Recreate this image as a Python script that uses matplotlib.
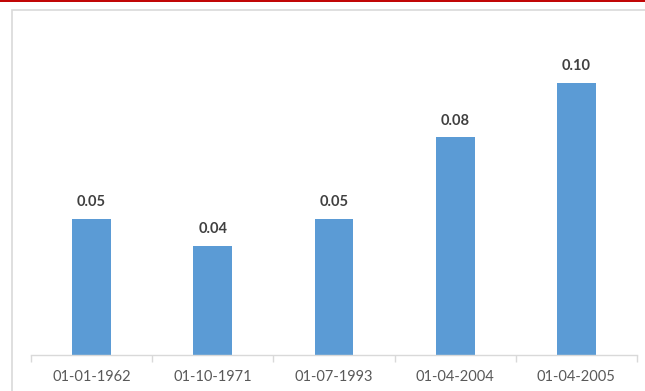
import matplotlib
matplotlib.use("Agg")
import matplotlib.pyplot as plt
from matplotlib.patches import Rectangle
from matplotlib.lines import Line2D

categories = ["01-01-1962", "01-10-1971", "01-07-1993", "01-04-2004", "01-04-2005"]
values = [0.05, 0.04, 0.05, 0.08, 0.10]
value_labels = ["0.05", "0.04", "0.05", "0.08", "0.10"]

plt.rcParams['font.family'] = ['Lato', 'DejaVu Sans']

W, H = 645, 391
fig = plt.figure(figsize=(W / 100, H / 100), dpi=100)
fig.patch.set_facecolor("white")

ax = fig.add_axes([31 / W, (H - 355) / H, 606 / W, 326.4 / H])
x = list(range(len(categories)))
ax.bar(x, values, width=0.32, color="#5B9BD5", zorder=2)

for xi, v, lab in zip(x, values, value_labels):
    ax.annotate(lab, (xi, v), xytext=(0, 7), textcoords="offset points",
                ha="center", va="bottom", fontsize=10.5, fontweight="bold",
                color="#404040")

ax.set_xlim(-0.5, len(categories) - 0.5)
ax.set_ylim(0, 0.12)
ax.set_yticks([])
ax.set_xticks(x)
ax.set_xticklabels(categories, fontsize=10.5, color="#595959")
ax.tick_params(axis="x", which="major", length=0, pad=11)
ax.set_xticks([i - 0.5 for i in range(len(categories) + 1)], minor=True)
ax.tick_params(axis="x", which="minor", length=5, color="#D9D9D9", width=1)
for s in ["top", "right", "left"]:
    ax.spines[s].set_visible(False)
ax.spines["bottom"].set_color("#D9D9D9")
ax.spines["bottom"].set_linewidth(1)
ax.set_facecolor("none")

fig.add_artist(Rectangle((11.5 / W, -0.1), 1.2, 1 - 9.5 / H + 0.1, fill=False,
                         ec="#D9D9D9", lw=1.2, transform=fig.transFigure))
fig.add_artist(Line2D([0, 1], [1 - 0.8 / H, 1 - 0.8 / H], color="#C00000",
                      lw=1.4, transform=fig.transFigure))

fig.savefig("out.png", dpi=100)
